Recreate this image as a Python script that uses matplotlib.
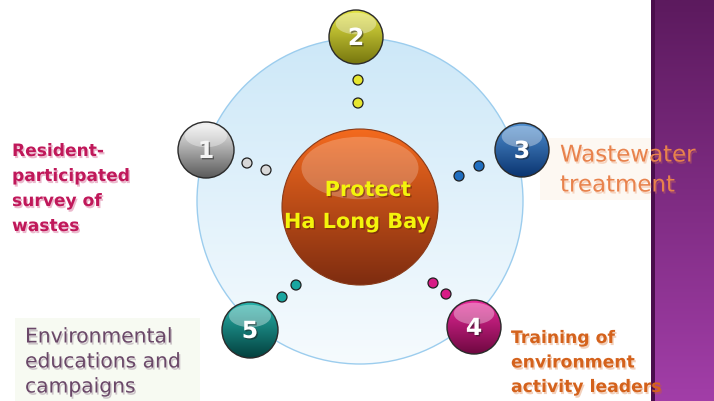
import numpy as np
import matplotlib
matplotlib.use("Agg")
import matplotlib.pyplot as plt
from matplotlib.patches import Circle, Ellipse, Rectangle
from matplotlib.colors import to_rgb
import matplotlib.patheffects as pe

# ---- content ----
center_text = ["Protect", "Ha Long Bay"]
ball_numbers = ["1", "2", "3", "4", "5"]
ball_labels = [
    "Resident-\nparticipated\nsurvey of\nwastes",
    "",
    "Wastewater\ntreatment",
    "Training of\nenvironment\nactivity leaders",
    "Environmental\neducations and\ncampaigns",
]

# ---- layout (pixel space) ----
ball_pos = [(206, 150), (356, 37), (522, 150), (474, 327), (250, 330)]
ball_r = [28, 27, 27, 27, 28]
dot_pos = [
    [(247, 163), (266, 170)],
    [(358, 80), (358, 103)],
    [(459, 176), (479, 166)],
    [(433, 283), (446, 294)],
    [(282, 297), (296, 285)],
]
ball_top = ["#f4f4f4", "#e4e444", "#4f8fd0", "#e8289a", "#28b4ac"]
ball_bot = ["#5a5a5a", "#76760e", "#0a3470", "#6e0840", "#03403e"]
dot_col = ["#d8d8d8", "#e6e630", "#1f6ec0", "#d81c86", "#1aa6a0"]
num_col = ["#f4f4f4", "#ffffff", "#ffffff", "#ffffff", "#ffffff"]

label_xy = [(12, 151), None, (560, 155), (511, 338), (25, 337)]
label_col = ["#c0185a", None, "#e8824c", "#d4621c", "#6a4868"]
label_weight = ["bold", None, "normal", "bold", "normal"]
label_size = [12.3, None, 16.5, 12.4, 14.6]
label_step = [25, None, 30, 24.5, 25]

fig = plt.figure(figsize=(7.14, 4.01), dpi=100)
ax = fig.add_axes([0, 0, 1, 1])
ax.axis("off")


def vgrad(ax, x0, x1, y0, y1, top, bot, z, clip=None):
    n = 256
    t = np.linspace(0, 1, n)[:, None, None]
    img = (1 - t) * np.array(to_rgb(top)) + t * np.array(to_rgb(bot))
    im = ax.imshow(img, extent=(x0, x1, y1, y0), origin="upper", zorder=z,
                   aspect="auto", interpolation="bilinear")
    if clip is not None:
        im.set_clip_path(clip)
    return im


def sphere(ax, cx, cy, r, top, bot, z, edge="#2a2a2a", lw=1.0, hl_alpha=0.35):
    circ = Circle((cx, cy), r, transform=ax.transData)
    vgrad(ax, cx - r, cx + r, cy - r, cy + r, top, bot, z, clip=circ)
    hl = Ellipse((cx, cy - r * 0.5), 1.5 * r, 0.8 * r, fc="white", ec="none",
                 alpha=hl_alpha, zorder=z + 0.1)
    ax.add_patch(hl)
    ax.add_patch(Circle((cx, cy), r, fill=False, ec=edge, lw=lw, zorder=z + 0.2))


# purple band at right
vgrad(ax, 654, 714, 0, 401, "#5c1a5e", "#a23ea8", 1)
ax.add_patch(Rectangle((651, 0), 4, 401, fc="#4a0e4c", ec="none", zorder=1.5))

# faint label boxes
ax.add_patch(Rectangle((15, 318), 185, 83, fc="#f7faf2", ec="none", zorder=0.5))
ax.add_patch(Rectangle((540, 138), 113, 62, fc="#fdf8f2", ec="none", zorder=0.5))

# big light-blue circle
big = Circle((360, 201), 163, transform=ax.transData)
vgrad(ax, 197, 523, 38, 364, "#cde8f8", "#f6fbfe", 2, clip=big)
ax.add_patch(Circle((360, 201), 163, fill=False, ec="#9ccdee", lw=1.0, zorder=2.2))

# central sphere
sphere(ax, 360, 207, 78, "#f46a1e", "#7e2c10", 3, edge="#8a3a18", lw=0.8, hl_alpha=0.22)
shadow = [pe.withSimplePatchShadow(offset=(1, -1), shadow_rgbFace="#6a2a08", alpha=0.6)]
ax.text(368, 190, center_text[0], color="#f4f40c", fontsize=15, fontweight="bold",
        ha="center", va="center", zorder=4, path_effects=shadow)
ax.text(357, 222, center_text[1], color="#f4f40c", fontsize=15, fontweight="bold",
        ha="center", va="center", zorder=4, path_effects=shadow)

# balls, dots, numbers, labels
for i in range(5):
    cx, cy = ball_pos[i]
    r = ball_r[i]
    sphere(ax, cx, cy, r, ball_top[i], ball_bot[i], 5)
    ax.text(cx, cy + 1, ball_numbers[i], color=num_col[i], fontsize=17, fontweight="bold",
            ha="center", va="center", zorder=6,
            path_effects=[pe.withSimplePatchShadow(offset=(1, -1), shadow_rgbFace="#202020", alpha=0.5)])
    for (dx, dy) in dot_pos[i]:
        ax.add_patch(Circle((dx, dy), 5, fc=dot_col[i], ec="#202020", lw=0.9, zorder=5))
    if ball_labels[i]:
        lx, ly = label_xy[i]
        for k, ln in enumerate(ball_labels[i].split("\n")):
            ax.text(lx, ly + k * label_step[i], ln, color=label_col[i], fontsize=label_size[i],
                    fontweight=label_weight[i], ha="left", va="center", zorder=7,
                    path_effects=[pe.withSimplePatchShadow(offset=(1, -1.5),
                                                           shadow_rgbFace=label_col[i], alpha=0.3)])

ax.set_xlim(0, 714)
ax.set_ylim(401, 0)
fig.savefig("out.png", dpi=100)
